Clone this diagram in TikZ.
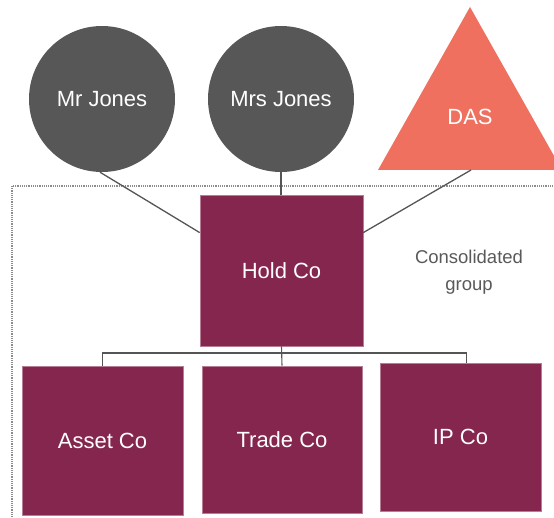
\documentclass[tikz,border=0pt]{standalone}
\usepackage{fontspec}
\setmainfont{Liberation Sans}
\usetikzlibrary{calc}
\definecolor{plum}{HTML}{85264F}
\definecolor{darkgrey}{HTML}{575757}
\definecolor{salmon}{HTML}{EF705F}
\definecolor{linegrey}{HTML}{555555}
\definecolor{textgrey}{HTML}{595959}
\definecolor{framegrey}{HTML}{8C8C8C}
\tikzset{
  person/.style={circle, fill=darkgrey, minimum size=146pt, inner sep=0pt, text=white, font=\fontsize{22}{26}\selectfont},
  company/.style={rectangle, fill=plum, draw=plum!60!white, line width=0.6pt, inner sep=0pt, text=white, font=\fontsize{22}{26}\selectfont},
  link/.style={draw=linegrey, line width=1.3pt},
  grouplabel/.style={text=textgrey, align=center, font=\fontsize{18.5}{27}\selectfont}
}
\begin{document}
\begin{tikzpicture}[x=1pt, y=-1pt]
\useasboundingbox (0,0) rectangle (554,518);
\clip (0,0) rectangle (554,518);
% consolidated group frame
\draw[framegrey, line width=1.2pt, dash pattern=on 1.2pt off 1pt] (12,186) rectangle (570,530);
% owners
\node[person] (mrj) at (102,99) {Mr Jones};
\node[person] (mrsj) at (281,99) {Mrs Jones};
\fill[salmon] (470,7) -- (562,170) -- (378,170) -- cycle;
\node[text=white, font=\fontsize{22}{26}\selectfont] (das) at (470,117) {DAS};
\coordinate (dasbase) at (471,170);
% companies
\node[company, minimum width=163pt, minimum height=151pt] (hold) at (281.5,270.5) {Hold Co};
\node[company, minimum width=161pt, minimum height=149pt] (asset) at (102.5,440.5) {Asset Co};
\node[company, minimum width=160pt, minimum height=147pt] (trade) at (282,439.5) {Trade Co};
\node[company, minimum width=161pt, minimum height=148pt] (ip) at (460.5,437) {IP Co};
\node[grouplabel] (cons) at (469,272) {Consolidated\\group};
% ownership links
\coordinate (mrjfoot) at ($(mrj.south)+(-2,0)$);
\draw[link] (mrjfoot) -- ($(hold.north west)!0.25!(hold.south west)$);
\draw[link] (mrsj.south) -- (mrsj.south |- hold.north);
\draw[link] (dasbase) -- ($(hold.north east)!0.25!(hold.south east)$);
% tree
\coordinate (bar) at (282,353);
\coordinate (ipdrop) at ($(ip.north)+(6,0)$);
\draw[link, line width=1.1pt] (hold.south) -- (trade.north);
\draw[link, line width=1.1pt] (asset.north) -- (asset.north |- bar) -- (ipdrop |- bar) -- (ipdrop);
\end{tikzpicture}
\end{document}
